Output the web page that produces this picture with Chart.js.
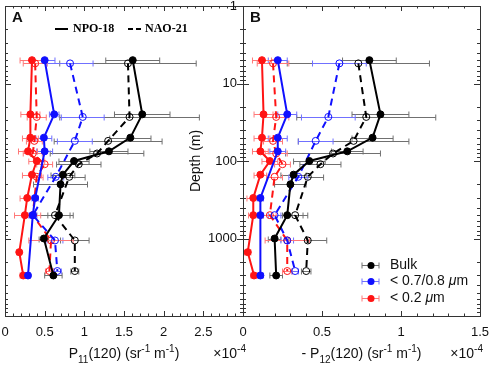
<!DOCTYPE html>
<html>
<head>
<meta charset="utf-8">
<script src="https://cdn.jsdelivr.net/npm/chart.js@4.4.1/dist/chart.umd.min.js"></script>
<style>
  body { margin: 0; background: #fff; }
  .wrap { position: relative; width: 491px; height: 368px; }
  .wrap canvas { position: absolute; left: 0; top: 0; }
</style>
</head>
<body>
<div class="wrap">
  <canvas id="panelA" width="491" height="368"></canvas>
  <canvas id="panelB" width="491" height="368"></canvas>
</div>
<script>
// depths (m) of each profile
const depthNpoBulk  = [5, 25, 50, 75, 100, 150, 200, 500, 1000, 3000];
const depthNpoFine  = [5, 25, 50, 75, 300, 500, 3000];
const depthNpoSmall = [5, 25, 50, 75, 100, 150, 300, 500, 1500, 3000];
const depthNaoBulk  = [5.5, 27, 55, 80, 110, 160, 500, 1060, 2630];
const depthNaoFine  = [5.5, 27, 55, 160, 500, 1060, 2630];
const depthNaoSmall = [5.5, 27, 55, 80, 110, 160, 500, 1060, 2630];

// panel A: P11(120), x 1e-4
const p11NpoBulk  = [1.61, 1.73, 1.58, 1.31, 0.87, 0.73, 0.70, 0.68, 0.49, 0.61];
const p11NpoFine  = [0.50, 0.62, 0.49, 0.50, 0.38, 0.35, 0.29];
const p11NpoSmall = [0.34, 0.32, 0.32, 0.29, 0.40, 0.34, 0.28, 0.25, 0.18, 0.23];
const p11NaoBulk  = [1.55, 1.57, 1.30, 1.16, 0.93, 0.81, 0.63, 0.88, 0.88];
const p11NaoFine  = [0.82, 0.98, 0.88, 0.64, 0.35, 0.63, 0.66];
const p11NaoSmall = [0.38, 0.40, 0.37, 0.35, 0.50, 0.40, 0.35, 0.58, 0.56];

const p11NpoBulkErr  = [0.34, 0.35, 0.26, 0.24, 0.19, 0.15, 0.34, 0.14, 0.06, 0.11];
const p11NpoFineErr  = [0.13, 0.06, 0.10, 0.10, 0.04, 0.04, 0.03];
const p11NpoSmallErr = [0.15, 0.12, 0.10, 0.12, 0.10, 0.12, 0.09, 0.13, 0.03, 0.04];
const p11NaoBulkErr  = [0.86, 0.88, 0.68, 0.59, 0.28, 0.20, 0.23, 0.18, 0.05];
const p11NaoFineErr  = [0.29, 0.27, 0.22, 0.10, 0.05, 0.10, 0.05];
const p11NaoSmallErr = [0.15, 0.12, 0.10, 0.12, 0.10, 0.08, 0.10, 0.28, 0.05];

// panel B: -P12(120), x 1e-4
const p12NpoBulk  = [0.80, 0.87, 0.82, 0.66, 0.42, 0.32, 0.30, 0.28, 0.20, 0.21];
const p12NpoFine  = [0.22, 0.28, 0.22, 0.22, 0.11, 0.11, 0.11];
const p12NpoSmall = [0.12, 0.13, 0.12, 0.11, 0.17, 0.11, 0.065, 0.065, 0.03, 0.07];
const p12NaoBulk  = [0.73, 0.78, 0.70, 0.57, 0.49, 0.41, 0.33, 0.41, 0.40];
const p12NaoFine  = [0.61, 0.54, 0.46, 0.35, 0.20, 0.28, 0.33];
const p12NaoSmall = [0.19, 0.21, 0.19, 0.21, 0.25, 0.20, 0.17, 0.28, 0.28];

const p12NpoBulkErr  = [0.17, 0.18, 0.13, 0.10, 0.10, 0.08, 0.10, 0.10, 0.04, 0.04];
const p12NpoFineErr  = [0.06, 0.06, 0.06, 0.05, 0.02, 0.02, 0.02];
const p12NpoSmallErr = [0.06, 0.06, 0.05, 0.05, 0.05, 0.04, 0.04, 0.03, 0.02, 0.02];
const p12NaoBulkErr  = [0.45, 0.44, 0.35, 0.30, 0.13, 0.10, 0.08, 0.12, 0.03];
const p12NaoFineErr  = [0.17, 0.17, 0.11, 0.06, 0.04, 0.04, 0.02];
const p12NaoSmallErr = [0.10, 0.08, 0.06, 0.07, 0.05, 0.05, 0.04, 0.14, 0.03];

const depthLabels = [1, 10, 100, 1000];

const BLACK = '#000000', BLUE = '#1010ff', RED = '#ff1414';
const BLACK_ERR = '#707070', BLUE_ERR = '#7070ff', RED_ERR = '#ff7878';
const FONT = 'Liberation Sans, Arial, Helvetica, sans-serif';

Chart.defaults.font.family = FONT;
Chart.defaults.color = '#111';

function series(xs, depths, errs, color, errColor, dashed) {
    return {
        data: xs.map((v, i) => ({ x: v, y: depths[i] })),
        errX: errs,
        errColor: errColor,
        showLine: true,
        borderColor: color,
        borderWidth: 2,
        borderDash: dashed ? [7, 5] : [],
        pointRadius: 3.5,
        pointBorderWidth: 1,
        pointBackgroundColor: dashed ? 'rgba(0,0,0,0)' : color,
        pointBorderColor: color
    };
}

// horizontal error bars with caps
const errorBars = {
    id: 'errorBars',
    beforeDatasetsDraw(chart) {
        const ctx = chart.ctx, xs = chart.scales.x, ys = chart.scales.y;
        const area = chart.chartArea;
        chart.data.datasets.forEach(ds => {
            ctx.save();
            ctx.strokeStyle = ds.errColor;
            ctx.lineWidth = 1;
            ds.data.forEach((p, i) => {
                const y = Math.round(ys.getPixelForValue(p.y)) + 0.5;
                const x1 = Math.max(area.left, xs.getPixelForValue(p.x - ds.errX[i]));
                const x2 = xs.getPixelForValue(p.x + ds.errX[i]);
                ctx.beginPath();
                ctx.moveTo(x1, y); ctx.lineTo(x2, y);
                ctx.moveTo(x1, y - 3); ctx.lineTo(x1, y + 3);
                ctx.moveTo(x2, y - 3); ctx.lineTo(x2, y + 3);
                ctx.stroke();
            });
            ctx.restore();
        });
    }
};

// frame with inward ticks
const frame = {
    id: 'frame',
    afterDatasetsDraw(chart) {
        const ctx = chart.ctx, a = chart.chartArea;
        const xs = chart.scales.x, ys = chart.scales.y;
        ctx.save();
        ctx.strokeStyle = '#333';
        ctx.lineWidth = 1;
        ctx.strokeRect(Math.round(a.left) + 0.5, Math.round(a.top) + 0.5,
            Math.round(a.right - a.left), Math.round(a.bottom - a.top));
        ctx.beginPath();
        // y ticks (log)
        for (let e = 0; e < 4; e++) {
            for (let k = 1; k <= 9; k++) {
                const y = Math.round(ys.getPixelForValue(k * Math.pow(10, e))) + 0.5;
                const len = k === 1 ? 6 : 3;
                ctx.moveTo(a.left, y); ctx.lineTo(a.left + len, y);
                ctx.moveTo(a.right, y); ctx.lineTo(a.right - len, y);
            }
        }
        // x ticks
        const step = 0.1;
        for (let v = xs.min; v <= xs.max + 1e-9; v += step) {
            const x = Math.round(xs.getPixelForValue(v)) + 0.5;
            const major = Math.abs(v / 0.5 - Math.round(v / 0.5)) < 1e-6;
            const len = major ? 5 : 2.5;
            ctx.moveTo(x, a.bottom); ctx.lineTo(x, a.bottom - len);
            ctx.moveTo(x, a.top); ctx.lineTo(x, a.top + len);
        }
        ctx.stroke();
        ctx.restore();
    }
};

// text pieces: [text, mode] mode 0 normal, 1 subscript, -1 superscript
function drawRich(ctx, parts, x, y, size, align) {
    const fontFor = m => (m === 0 ? size : Math.round(size * 0.72)) + 'px ' + FONT;
    let total = 0;
    parts.forEach(p => { ctx.font = fontFor(p[1]); total += ctx.measureText(p[0]).width; });
    let cx = align === 'center' ? x - total / 2 : (align === 'right' ? x - total : x);
    ctx.textBaseline = 'alphabetic';
    ctx.textAlign = 'left';
    parts.forEach(p => {
        ctx.font = fontFor(p[1]);
        const dy = p[1] === 1 ? 5 : (p[1] === -1 ? -6 : 0);
        ctx.fillText(p[0], cx, y + dy);
        cx += ctx.measureText(p[0]).width;
    });
}

function titles(partsX, letter) {
    return {
        id: 'titles' + letter,
        afterDraw(chart) {
            const ctx = chart.ctx, a = chart.chartArea;
            ctx.save();
            ctx.fillStyle = '#111';
            drawRich(ctx, partsX, (a.left + a.right) / 2, 358, 14, 'center');
            drawRich(ctx, [['\u00d710', 0], ['-4', -1]], a.right + 3, 358, 14, 'right');
            ctx.font = 'bold 15px ' + FONT;
            ctx.textBaseline = 'middle';
            ctx.textAlign = 'left';
            ctx.fillText(letter, a.left + 7, a.top + 12);
            ctx.restore();
        }
    };
}

const topLegend = {
    id: 'topLegend',
    afterDraw(chart) {
        const ctx = chart.ctx, a = chart.chartArea;
        const y = a.top + 23;
        ctx.save();
        ctx.strokeStyle = BLACK;
        ctx.lineWidth = 2;
        ctx.beginPath(); ctx.moveTo(a.left + 50, y); ctx.lineTo(a.left + 63, y); ctx.stroke();
        ctx.setLineDash([5, 3]);
        ctx.beginPath(); ctx.moveTo(a.left + 123, y); ctx.lineTo(a.left + 136, y); ctx.stroke();
        ctx.fillStyle = BLACK;
        ctx.font = 'bold 12px Liberation Serif, Times New Roman, serif';
        ctx.textBaseline = 'middle';
        ctx.fillText('NPO-18', a.left + 68, y);
        ctx.fillText('NAO-21', a.left + 140, y);
        ctx.restore();
    }
};

const sizeLegend = {
    id: 'sizeLegend',
    afterDraw(chart) {
        const ctx = chart.ctx, a = chart.chartArea;
        const rows = [
            [BLACK, BLACK_ERR, [['Bulk', 0]], 51],
            [BLUE, BLUE_ERR, [['< 0.7/0.8 ', 0], ['\u03bc', 2], ['m', 0]], 35],
            [RED, RED_ERR, [['< 0.2 ', 0], ['\u03bc', 2], ['m', 0]], 18]
        ];
        ctx.save();
        rows.forEach(r => {
            const y = a.bottom - r[3] + 0.5, cx = a.right - 109;
            ctx.strokeStyle = r[1];
            ctx.lineWidth = 1;
            ctx.beginPath();
            ctx.moveTo(cx - 9, y); ctx.lineTo(cx + 8, y);
            ctx.moveTo(cx - 9, y - 3); ctx.lineTo(cx - 9, y + 3);
            ctx.moveTo(cx + 8, y - 3); ctx.lineTo(cx + 8, y + 3);
            ctx.stroke();
            ctx.fillStyle = r[0];
            ctx.beginPath(); ctx.arc(cx, y, 3.5, 0, Math.PI * 2); ctx.fill();
            ctx.fillStyle = '#111';
            ctx.textBaseline = 'middle';
            let x = a.right - 90;
            r[2].forEach(p => {
                ctx.font = (p[1] === 2 ? 'italic ' : '') + '14px ' + FONT;
                ctx.fillText(p[0], x, y);
                x += ctx.measureText(p[0]).width;
            });
        });
        ctx.restore();
    }
};

function yScale(showLabels) {
    return {
        type: 'logarithmic',
        reverse: true,
        min: 1,
        max: 10000,
        position: 'left',
        grid: { display: false, drawTicks: false },
        border: { display: false },
        ticks: {
            display: showLabels,
            autoSkip: false,
            padding: 6,
            font: { size: 13 },
            callback: v => depthLabels.includes(v) ? String(v) : ''
        },
        title: {
            display: showLabels,
            text: 'Depth (m)',
            font: { size: 14 },
            padding: { top: 5, bottom: 0 }
        },
        afterFit: s => { s.width = showLabels ? 60 : 0; s.paddingTop = 0; s.paddingBottom = 0; }
    };
}

function xScale(max, hideLast) {
    return {
        type: 'linear',
        min: 0,
        max: max,
        grid: { display: false, drawTicks: false },
        border: { display: false },
        ticks: {
            stepSize: 0.5,
            padding: 9,
            font: { size: 13 },
            autoSkip: false,
            maxRotation: 0,
            callback: v => (hideLast && v === max) ? '' : String(v)
        },
        afterFit: s => { s.height = 52; s.paddingLeft = 0; s.paddingRight = 0; }
    };
}

new Chart(document.getElementById('panelA'), {
    type: 'scatter',
    data: {
        datasets: [
            series(p11NpoBulk, depthNpoBulk, p11NpoBulkErr, BLACK, BLACK_ERR, false),
            series(p11NaoBulk, depthNaoBulk, p11NaoBulkErr, BLACK, BLACK_ERR, true),
            series(p11NpoFine, depthNpoFine, p11NpoFineErr, BLUE, BLUE_ERR, false),
            series(p11NaoFine, depthNaoFine, p11NaoFineErr, BLUE, BLUE_ERR, true),
            series(p11NpoSmall, depthNpoSmall, p11NpoSmallErr, RED, RED_ERR, false),
            series(p11NaoSmall, depthNaoSmall, p11NaoSmallErr, RED, RED_ERR, true)
        ]
    },
    options: {
        responsive: false,
        animation: false,
        layout: { padding: { left: 5, right: 248, top: 6, bottom: 0 } },
        plugins: { legend: { display: false }, tooltip: { enabled: false } },
        scales: { x: xScale(3, true), y: yScale(false) }
    },
    plugins: [errorBars, frame, topLegend,
        titles([['P', 0], ['11', 1], ['(120) (sr', 0], ['-1', -1], [' m', 0], ['-1', -1], [')', 0]], 'A')]
});

new Chart(document.getElementById('panelB'), {
    type: 'scatter',
    data: {
        datasets: [
            series(p12NpoBulk, depthNpoBulk, p12NpoBulkErr, BLACK, BLACK_ERR, false),
            series(p12NaoBulk, depthNaoBulk, p12NaoBulkErr, BLACK, BLACK_ERR, true),
            series(p12NpoFine, depthNpoFine, p12NpoFineErr, BLUE, BLUE_ERR, false),
            series(p12NaoFine, depthNaoFine, p12NaoFineErr, BLUE, BLUE_ERR, true),
            series(p12NpoSmall, depthNpoSmall, p12NpoSmallErr, RED, RED_ERR, false),
            series(p12NaoSmall, depthNaoSmall, p12NaoSmallErr, RED, RED_ERR, true)
        ]
    },
    options: {
        responsive: false,
        animation: false,
        layout: { padding: { left: 183, right: 11, top: 6, bottom: 0 } },
        plugins: { legend: { display: false }, tooltip: { enabled: false } },
        scales: { x: xScale(1.5, false), y: yScale(true) }
    },
    plugins: [errorBars, frame, sizeLegend,
        titles([['- P', 0], ['12', 1], ['(120) (sr', 0], ['-1', -1], [' m', 0], ['-1', -1], [')', 0]], 'B')]
});
</script>
</body>
</html>
